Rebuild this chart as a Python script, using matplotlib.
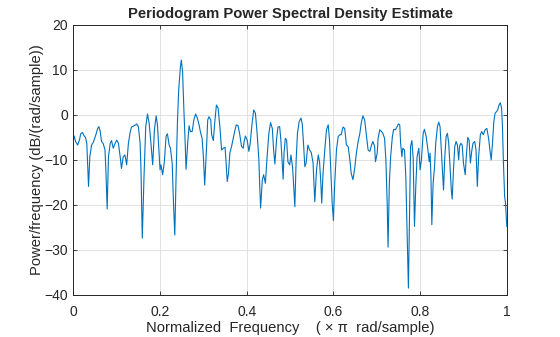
import numpy as np
import matplotlib
matplotlib.use("Agg")
import matplotlib.pyplot as plt

# normalized frequency (x pi rad/sample) and PSD in dB/(rad/sample)
freq = [
    0.000, 0.002, 0.005, 0.010, 0.014, 0.017, 0.021, 0.025, 0.028, 0.031,
    0.035, 0.038, 0.042, 0.046, 0.052, 0.056, 0.059, 0.062, 0.065, 0.069,
    0.073, 0.075, 0.078, 0.081, 0.085, 0.088, 0.092, 0.096, 0.100, 0.104,
    0.108, 0.111, 0.115, 0.119, 0.123, 0.127, 0.131, 0.134, 0.140, 0.144,
    0.146, 0.150, 0.154, 0.156, 0.159, 0.163, 0.167, 0.171, 0.175, 0.179,
    0.183, 0.187, 0.191, 0.194, 0.197, 0.200, 0.202, 0.206, 0.210, 0.214,
    0.217, 0.221, 0.224, 0.228, 0.231, 0.234, 0.237, 0.240, 0.243, 0.247,
    0.249, 0.252, 0.255, 0.258, 0.260, 0.264, 0.267, 0.270, 0.274, 0.278,
    0.282, 0.286, 0.290, 0.293, 0.297, 0.300, 0.303, 0.307, 0.310, 0.313,
    0.317, 0.319, 0.323, 0.326, 0.330, 0.334, 0.338, 0.342, 0.346, 0.350,
    0.352, 0.355, 0.358, 0.361, 0.365, 0.369, 0.373, 0.376, 0.380, 0.384,
    0.388, 0.392, 0.394, 0.397, 0.401, 0.405, 0.408, 0.412, 0.416, 0.420,
    0.424, 0.428, 0.430, 0.432, 0.436, 0.439, 0.443, 0.447, 0.451, 0.455,
    0.459, 0.462, 0.465, 0.469, 0.472, 0.476, 0.479, 0.482, 0.484, 0.486,
    0.489, 0.492, 0.495, 0.499, 0.502, 0.506, 0.509, 0.511, 0.514, 0.517,
    0.521, 0.525, 0.528, 0.531, 0.534, 0.537, 0.541, 0.545, 0.549, 0.553,
    0.557, 0.561, 0.565, 0.568, 0.571, 0.573, 0.576, 0.580, 0.584, 0.588,
    0.591, 0.594, 0.597, 0.600, 0.603, 0.607, 0.611, 0.615, 0.618, 0.622,
    0.626, 0.630, 0.634, 0.638, 0.641, 0.645, 0.649, 0.653, 0.657, 0.661,
    0.664, 0.668, 0.672, 0.676, 0.680, 0.684, 0.688, 0.691, 0.695, 0.697,
    0.701, 0.703, 0.707, 0.711, 0.714, 0.718, 0.721, 0.724, 0.726, 0.729,
    0.732, 0.736, 0.739, 0.743, 0.747, 0.750, 0.753, 0.755, 0.758, 0.760,
    0.764, 0.767, 0.770, 0.773, 0.776, 0.778, 0.781, 0.784, 0.787, 0.790,
    0.793, 0.797, 0.800, 0.803, 0.807, 0.810, 0.814, 0.818, 0.821, 0.823,
    0.825, 0.827, 0.830, 0.833, 0.836, 0.840, 0.843, 0.846, 0.849, 0.852,
    0.854, 0.857, 0.860, 0.863, 0.866, 0.869, 0.872, 0.874, 0.877, 0.880,
    0.883, 0.886, 0.889, 0.891, 0.894, 0.897, 0.900, 0.904, 0.907, 0.910,
    0.913, 0.916, 0.919, 0.922, 0.926, 0.929, 0.932, 0.935, 0.939, 0.942,
    0.946, 0.950, 0.954, 0.958, 0.961, 0.964, 0.967, 0.970, 0.973, 0.976,
    0.979, 0.982, 0.985, 0.988, 0.990, 0.992, 0.995, 0.997, 1.000,
]
psd_db = [
    -5.6, -4.7, -5.9, -6.7, -5.6, -4.2, -3.9, -4.7, -5.0, -6.3,
    -15.9, -9.3, -6.7, -6.1, -4.4, -3.0, -2.6, -3.7, -5.9, -6.4,
    -7.8, -12.2, -20.9, -9.3, -6.3, -5.7, -7.4, -6.4, -5.6, -6.3,
    -9.3, -11.9, -9.3, -8.9, -11.1, -6.3, -3.9, -2.7, -2.4, -2.2,
    -2.0, -2.6, -6.3, -12.2, -27.4, -13.7, -2.6, 0.2, -1.9, -6.3,
    -11.1, -3.3, -0.2, -2.2, -7.4, -12.2, -11.1, -13.3, -10.4, -4.7,
    -4.2, -6.7, -7.4, -10.7, -19.6, -26.7, -13.7, -1.9, 5.6, 10.7,
    12.2, 9.6, 1.1, -6.3, -12.1, -5.9, -2.4, -3.7, -3.7, -1.1,
    0.2, -0.7, -2.2, -3.7, -5.2, -9.3, -15.6, -7.8, -1.1, -0.4,
    -1.1, -4.4, -5.7, -1.9, 2.2, 1.5, -2.6, -7.8, -7.4, -7.2,
    -10.0, -14.8, -13.0, -8.5, -7.0, -5.2, -3.3, -2.2, -2.4, -4.4,
    -7.0, -7.4, -5.9, -4.7, -5.6, -8.1, -6.3, -2.2, 1.1, 0.4,
    -4.1, -10.0, -15.9, -20.7, -14.4, -13.3, -15.2, -9.3, -4.1, -1.7,
    -3.0, -7.8, -10.9, -5.2, -2.7, -2.6, -5.9, -10.7, -14.3, -8.5,
    -5.2, -5.6, -10.4, -11.1, -8.9, -11.9, -17.0, -20.4, -10.0, -4.1,
    -1.5, -0.7, -1.9, -6.3, -11.5, -10.7, -6.7, -7.8, -8.4, -10.7,
    -19.3, -12.2, -8.9, -10.4, -15.2, -19.6, -13.0, -7.8, -3.3, -2.2,
    -5.6, -12.2, -19.3, -23.5, -15.2, -7.8, -4.8, -4.4, -4.4, -2.7,
    -3.0, -6.7, -7.0, -10.0, -13.0, -14.4, -11.9, -8.5, -5.9, -4.1,
    -1.9, -0.2, -1.1, -4.4, -7.8, -8.1, -6.7, -5.9, -7.0, -10.4,
    -8.5, -5.2, -3.3, -3.7, -4.1, -5.2, -10.0, -19.6, -29.4, -15.2,
    -9.3, -4.8, -3.2, -3.3, -2.6, -2.0, -2.2, -6.3, -9.3, -7.4,
    -7.8, -13.7, -25.6, -38.5, -19.6, -7.0, -5.7, -9.6, -24.8, -15.9,
    -9.3, -7.4, -12.2, -10.0, -4.1, -3.2, -4.8, -7.8, -10.4, -8.5,
    -13.7, -24.4, -15.2, -11.9, -6.3, -2.6, -1.6, -2.6, -7.8, -13.0,
    -16.7, -9.3, -4.8, -4.1, -6.3, -11.5, -16.7, -18.7, -12.2, -7.0,
    -5.9, -6.7, -10.0, -7.0, -6.3, -6.7, -10.7, -13.3, -8.5, -5.0,
    -5.6, -10.7, -8.1, -6.3, -5.9, -7.8, -15.9, -9.3, -4.4, -3.7,
    -4.4, -3.3, -3.0, -5.2, -7.8, -10.0, -6.3, -1.5, 0.4, 0.7,
    1.1, 2.2, 2.7, 1.5, -2.6, -10.0, -18.1, -19.6, -24.8,
]

x_ticks = [0, 0.2, 0.4, 0.6, 0.8, 1]
x_ticklabels = ["0", "0.2", "0.4", "0.6", "0.8", "1"]
y_ticks = [-40, -30, -20, -10, 0, 10, 20]

plt.rcParams["font.family"] = ["Liberation Sans", "DejaVu Sans"]

fig = plt.figure(figsize=(5.6, 3.37), dpi=100)
ax = fig.add_axes([0.131, 0.125, 0.774, 0.801])

ax.plot(freq, psd_db, color="#0072BD", lw=0.8)

ax.set_xlim(0, 1)
ax.set_ylim(-40, 20)
ax.set_xticks(x_ticks)
ax.set_xticklabels(x_ticklabels)
ax.set_yticks(y_ticks)
ax.grid(True, color="#dcdcdc", lw=0.6)
ax.set_axisbelow(True)
ax.tick_params(direction="in", length=3, width=0.6, labelsize=10,
               top=True, right=True, colors="#262626")
ax.tick_params(axis="x", pad=7)
ax.tick_params(axis="y", pad=4)
for s in ax.spines.values():
    s.set_linewidth(0.7)
    s.set_color("#262626")

ax.set_title("Periodogram Power Spectral Density Estimate",
             fontsize=10.6, fontweight="bold", color="#262626", pad=5)
ax.set_xlabel("Normalized  Frequency    ( \u00d7 \u03c0  rad/sample)",
              fontsize=10.6, color="#262626", labelpad=2)
ax.set_ylabel("Power/frequency (dB/(rad/sample))", fontsize=10.6,
              color="#262626", labelpad=0)

fig.savefig("out.png", dpi=100)
